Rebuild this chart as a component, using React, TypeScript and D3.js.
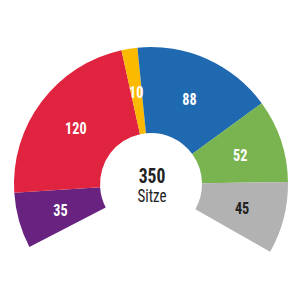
import React from "react";
import * as d3 from "d3";

const parties = ["Lila", "Rot", "Gelb", "Blau", "Grün", "Grau"];
const seats = [35, 120, 10, 88, 52, 45];
const colors = ["#67237f", "#e0233e", "#fbba00", "#1f69b0", "#7ab450", "#b2b2b2"];
const labelColors = ["#ffffff", "#ffffff", "#ffffff", "#ffffff", "#ffffff", "#222222"];
const totalLabel = "Sitze";

export default function App() {
  const W = 300, H = 300;
  const cx = 151, cy = 184;
  const outerR = 137, innerR = 51;
  const startA = (-117.4 * Math.PI) / 180;
  const endA = (119.6 * Math.PI) / 180;

  const pie = d3.pie<number>().sort(null).value((d) => d).startAngle(startA).endAngle(endA);
  const arcs = pie(seats);
  const arc = d3.arc<d3.PieArcDatum<number>>().innerRadius(innerR).outerRadius(outerR);
  const total = d3.sum(seats);
  const font = "'Roboto Condensed', 'Liberation Sans Narrow', Roboto, sans-serif";

  return (
    <svg width={W} height={H} style={{ position: "absolute", left: 0, top: 0, background: "#fff" }}>
      <g transform={`translate(${cx},${cy})`}>
        {arcs.map((a, i) => (
          <path key={parties[i]} d={arc(a) || ""} fill={colors[i]} />
        ))}
        {arcs.map((a, i) => {
          const [x, y] = arc.centroid(a);
          return (
            <text
              key={"l" + i}
              transform={`translate(${x},${y + 0.5}) scale(0.86,1)`}
              textAnchor="middle"
              dy="0.36em"
              fontFamily={font}
              fontWeight="bold"
              fontSize={16.5}
              fill={labelColors[i]}
            >
              {seats[i]}
            </text>
          );
        })}
        <text transform="translate(1,-1) scale(0.88,1)" textAnchor="middle" fontFamily={font} fontWeight="bold" fontSize={20} fill="#222">
          {total}
        </text>
        <text transform="translate(1,18) scale(0.86,1)" textAnchor="middle" fontFamily={font} fontSize={17.5} fill="#222">
          {totalLabel}
        </text>
      </g>
    </svg>
  );
}
